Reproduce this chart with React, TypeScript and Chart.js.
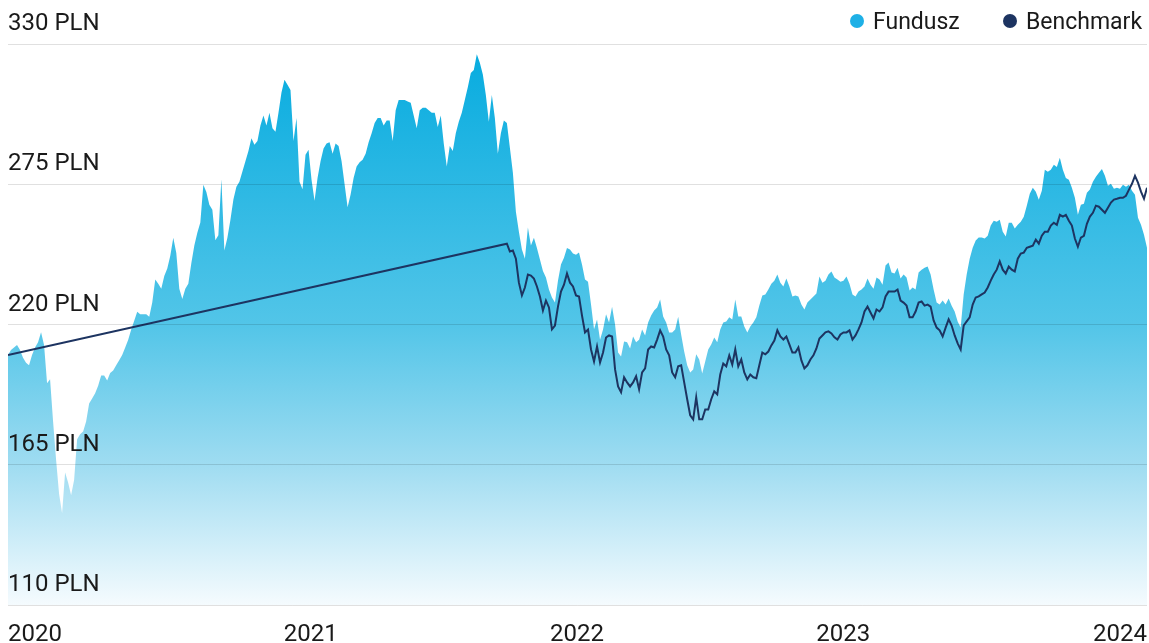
import React, { useEffect, useRef } from 'react';
import { Chart, registerables } from 'chart.js';

Chart.register(...registerables);

// ---- data ----
const START_DATE = Date.UTC(2019, 10, 13);
const STEP_DAYS = 4.12;
const DAY_MS = 86400000;
const YEAR_TICKS = [2021, 2022, 2023];
const X_TICK_LABELS = ['2020', '2021', '2022', '2023', '2024'];
const Y_TICKS = [110, 165, 220, 275, 330];
const SERIES_NAMES = ['Fundusz', 'Benchmark'];

const FUND_VALUES = [
  208, 210, 211, 212, 210, 207, 205, 204, 208, 211,
  213, 217, 212, 197, 198.5, 182, 167, 153.5, 146, 162,
  158, 153, 159, 175, 177, 178, 182, 189, 191, 193,
  196, 200, 200, 198, 201, 202, 204, 206, 208, 211,
  214, 218, 221.5, 225, 224, 224, 224, 223, 228.6, 237.6,
  236, 234, 239, 242, 247, 254, 248, 234, 230, 234,
  236, 244, 251, 256, 260, 274.8, 272, 267, 265, 253,
  255, 277, 249, 254, 261, 269, 274, 276, 280, 284,
  288, 293, 290.5, 292, 298, 302, 298, 303, 297, 295.6,
  303, 311, 316, 314, 312, 292, 301, 276, 273, 286.6,
  288.5, 276.8, 268.5, 277.5, 284, 289, 291, 291.5, 287, 291,
  290, 284, 275, 266, 271, 277.5, 282, 283.6, 284.6, 287,
  291.5, 295, 299, 301, 301, 298, 300, 300, 292, 304,
  308, 308, 308, 307.5, 307, 302, 297, 304, 305, 305,
  304, 303, 303, 297.5, 302, 291, 282, 290, 288, 295,
  299.5, 303, 308, 313, 318.6, 319.8, 326, 322.6, 318, 310,
  299.5, 310, 301, 287, 295, 300, 299, 289.3, 279.5, 264.2,
  256.4, 249.4, 245.8, 258, 251, 254, 250, 245.5, 241, 238.4,
  233.7, 230.6, 228.6, 237.2, 243.5, 246.2, 250, 249.4, 247.8, 247.4,
  248.2, 243.5, 237.6, 236.8, 227.8, 218.1, 222, 214, 218, 224,
  220.8, 227, 220, 209, 207.5, 213.3, 213, 210.6, 215.3, 213,
  214, 218, 215.7, 220.8, 223.5, 225.5, 226.7, 229.8, 223.1, 220.8,
  216.9, 216.9, 218, 223, 216, 209.4, 204, 201.2, 202.4, 208.3,
  206.3, 200.8, 205.5, 210.2, 212.2, 214.9, 213, 218, 220.8, 221.2,
  222.8, 222, 229.8, 223.1, 223.1, 219.2, 216.9, 219.2, 220.8, 222.8,
  227.5, 231.4, 231.8, 233.7, 236, 237.2, 239.6, 236.4, 234.9, 238,
  234.9, 231, 231.4, 231, 227.8, 225.9, 228.6, 229.8, 231, 232.2,
  238.8, 236.4, 237.2, 239.6, 240.8, 238.4, 237.6, 236.8, 237.2, 238.8,
  236, 231.8, 231, 232.9, 233.7, 234.9, 238, 235.6, 234, 238.4,
  237.6, 235.6, 243.1, 244.3, 240.4, 240, 242.3, 238, 239.6, 238.4,
  233.3, 234.5, 233.7, 240.4, 241.5, 242.3, 242.7, 239.6, 233.7, 228.6,
  227.8, 229.4, 227.8, 230.2, 227.4, 225.1, 221.2, 218.8, 231.8, 239.6,
  245.8, 250.1, 252.9, 254.1, 254.1, 253.7, 254.8, 258.8, 260.7, 260.3,
  261.1, 256.4, 254.5, 259.9, 259.9, 257.6, 259.1, 260.3, 262.3, 266.6,
  271.3, 273.6, 272.1, 268.9, 272.5, 280.7, 279.9, 280.7, 282.6, 281.8,
  285.4, 280.7, 277.5, 276.8, 273.6, 269.7, 263, 267, 267.4, 271.7,
  272.9, 276, 277.9, 279.5, 281, 278.3, 274.4, 275.2, 273.2, 273.6,
  273.2, 274.8, 274, 274.8, 272.5, 270.9, 261.9, 259.1, 255.2, 250.1,
];

const BENCH_START_VALUE = 208;
const BENCH_OFFSET = 166;
const BENCH_VALUES = [
  251.7, 248.6, 249, 245.8,
  236.4, 231.4, 234.5, 239.6, 239.2, 238, 234.9, 231, 225.5, 229.4,
  226.7, 218.1, 219.6, 227, 232.9, 235.6, 240, 236.4, 234.9, 231.4,
  231, 223.5, 216.9, 218, 210.2, 205.5, 211.4, 205.1, 209, 214.9,
  215.7, 215.3, 202.4, 195.7, 193.4, 199.3, 197.3, 195.7, 197.3, 199.7,
  194.6, 201.2, 202.8, 210.2, 211.4, 211, 214.1, 217.7, 215.3, 210.2,
  207.9, 201.2, 199.3, 203.6, 204, 197.3, 190.7, 184.4, 182.8, 191.4,
  182.8, 182.8, 186.7, 186.7, 190.7, 193.8, 192.6, 200.4, 204.7, 203.6,
  207.9, 204.3, 210.2, 203.6, 206.3, 201.2, 198.5, 200.4, 199.3, 198.9,
  204, 209, 208.3, 209.4, 211.8, 213.7, 217.7, 215.3, 214.1, 215.3,
  212.2, 209, 209, 211, 205.9, 202.8, 204, 206.3, 207.9, 210.6,
  214.5, 215.7, 216.9, 217.3, 216.5, 215, 214.1, 216.1, 216.9, 216.9,
  217.7, 214.1, 215.7, 218.1, 220.8, 225.1, 227, 224.7, 222.4, 225.9,
  225.1, 226.7, 231, 232.9, 232.9, 232.9, 233.7, 229.4, 228.6, 227.4,
  222.8, 222.8, 225.1, 228.6, 229, 227.4, 227.8, 227, 221.6, 218.8,
  217.7, 215.3, 218.8, 222, 219.6, 215.7, 212.6, 210.2, 219.6, 221.2,
  222.8, 227.8, 230.6, 231, 231.8, 232.5, 234.5, 237.2, 239.6, 241.5,
  244.7, 241.5, 240, 242.7, 241.5, 240.8, 245.8, 247.8, 248.2, 250.1,
  250.5, 250.9, 253.3, 251.7, 254.8, 256.4, 256.4, 258.8, 259.9, 259.1,
  263, 262.3, 263, 260.7, 258.8, 253.7, 250.5, 254.1, 254.8, 259.5,
  262.3, 263.8, 266.6, 266.2, 265, 263.8, 265.8, 267.8, 269, 269.3,
  269.7, 269.7, 270.5, 272.9, 275.2, 278.3, 275.6, 272.1, 269.3, 273.6,
];

// ---- styles ----
const FUND_COLOR = '#1eb0e6';
const BENCH_COLOR = '#1d3461';
const TEXT_COLOR = '#1a1a1a';
const FONT = 'Roboto, "Noto Sans", sans-serif';

export default function App() {
  const canvasRef = useRef<HTMLCanvasElement | null>(null);

  useEffect(() => {
    const canvas = canvasRef.current;
    if (!canvas) return;
    const dates = FUND_VALUES.map((_, i) => START_DATE + i * STEP_DAYS * DAY_MS);
    const fundData = FUND_VALUES.map((v, i) => ({ x: dates[i], y: v }));
    const benchData = [
      { x: dates[0], y: BENCH_START_VALUE },
      ...BENCH_VALUES.map((v, i) => ({ x: dates[BENCH_OFFSET + i], y: v })),
    ];
    const xMin = dates[0];
    const xMax = dates[dates.length - 1];

    const chart = new Chart(canvas, {
      type: 'line',
      data: {
        datasets: [
          {
            label: SERIES_NAMES[1],
            data: benchData,
            borderColor: BENCH_COLOR,
            borderWidth: 2,
            pointRadius: 0,
            fill: false,
            tension: 0,
            order: 0,
          },
          {
            label: SERIES_NAMES[0],
            data: fundData,
            borderWidth: 0,
            borderColor: 'rgba(0,0,0,0)',
            pointRadius: 0,
            tension: 0,
            fill: 'start',
            order: 1,
            backgroundColor: (ctx: any) => {
              const area = ctx.chart.chartArea;
              if (!area) return FUND_COLOR;
              const g = ctx.chart.ctx.createLinearGradient(0, area.top, 0, area.bottom);
              g.addColorStop(0, '#05abdf');
              g.addColorStop(0.5, '#52c5e8');
              g.addColorStop(0.75, '#9fdcf1');
              g.addColorStop(1, '#f5fbfe');
              return g;
            },
          },
        ],
      },
      options: {
        animation: false,
        responsive: true,
        maintainAspectRatio: false,
        layout: { padding: { left: 8, right: 2, top: 44, bottom: 0 } },
        plugins: {
          legend: { display: false },
          tooltip: { enabled: false },
        },
        scales: {
          x: {
            type: 'linear',
            min: xMin,
            max: xMax,
            afterBuildTicks: (scale: any) => {
              scale.ticks = [xMin, ...YEAR_TICKS.map((y) => Date.UTC(y, 0, 1)), xMax].map((v) => ({ value: v }));
            },
            ticks: {
              callback: (_v: any, i: number) => X_TICK_LABELS[i],
              align: 'inner',
              maxRotation: 0,
              autoSkip: false,
              padding: 2,
              color: TEXT_COLOR,
              font: { family: FONT, size: 24, lineHeight: 0.5 },
            },
            grid: { display: false, drawTicks: true, tickLength: 22 },
            border: { display: false },
          },
          y: {
            type: 'linear',
            min: 110,
            max: 330,
            afterBuildTicks: (scale: any) => {
              scale.ticks = Y_TICKS.map((v) => ({ value: v }));
            },
            ticks: {
              mirror: true,
              padding: 0,
              labelOffset: -20,
              z: 1,
              callback: (v: any) => `${v} PLN`,
              color: TEXT_COLOR,
              font: { family: FONT, size: 24 },
            },
            grid: { color: 'rgba(0,0,0,0.12)', lineWidth: 1, drawTicks: false, z: 1 },
            border: { display: false },
          },
        },
      },
    } as any);
    return () => chart.destroy();
  }, []);

  const legendText: React.CSSProperties = {
    position: 'absolute',
    top: 10,
    fontFamily: FONT,
    fontSize: 23,
    lineHeight: '23px',
    color: TEXT_COLOR,
    whiteSpace: 'nowrap',
  };
  const dot = (color: string, left: number): React.CSSProperties => ({
    position: 'absolute',
    left,
    top: 14,
    width: 14,
    height: 14,
    borderRadius: '50%',
    background: color,
  });

  return (
    <div style={{ position: 'absolute', left: 0, top: 0, width: 1149, height: 643, background: '#fff' }}>
      <canvas ref={canvasRef} style={{ display: 'block' }} />
      <span style={dot(FUND_COLOR, 849.5)} />
      <span style={{ ...legendText, left: 873 }}>{SERIES_NAMES[0]}</span>
      <span style={dot(BENCH_COLOR, 1003)} />
      <span style={{ ...legendText, left: 1026 }}>{SERIES_NAMES[1]}</span>
    </div>
  );
}
